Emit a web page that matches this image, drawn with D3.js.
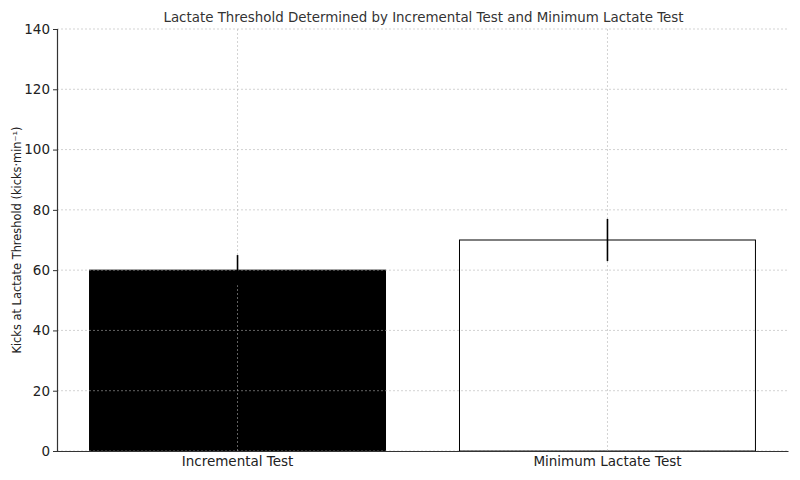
<!DOCTYPE html>
<html>
<head>
<meta charset="utf-8">
<script src="https://cdn.jsdelivr.net/npm/d3@7"></script>
<style>
  body { margin: 0; background: #fff; }
  text { font-family: "DejaVu Sans", sans-serif; }
</style>
</head>
<body>
<script>
// data
const categories = ['Incremental Test', 'Minimum Lactate Test'];
const means = [60, 70];
const errors = [5, 7];
const fills = ['#000000', '#ffffff'];
const yTicks = [0, 20, 40, 60, 80, 100, 120, 140];

const width = 800;
const height = 480;
const margin = {top: 29, right: 12, bottom: 29, left: 57};

const svg = d3.select('body')
  .append('svg')
    .attr('width', width)
    .attr('height', height);

const x = d3.scaleBand()
  .domain(categories)
  .range([margin.left, width - margin.right])
  .paddingInner(0.2)
  .paddingOuter(0.088);

const y = d3.scaleLinear()
  .domain([0, 140])
  .range([height - margin.bottom, margin.top]);

// bars
svg.selectAll('rect.bar')
  .data(categories)
  .enter().append('rect')
    .attr('class', 'bar')
    .attr('x', d => x(d))
    .attr('y', (d, i) => y(means[i]))
    .attr('width', x.bandwidth())
    .attr('height', (d, i) => y(0) - y(means[i]))
    .attr('fill', (d, i) => fills[i])
    .attr('stroke', '#000')
    .attr('stroke-width', 1);

// grid on top of the bars
const grid = svg.append('g')
  .attr('stroke', '#b0b0b0')
  .attr('stroke-opacity', 0.7)
  .attr('stroke-width', 0.8)
  .attr('stroke-dasharray', '2,2');

grid.selectAll('line.h')
  .data(yTicks)
  .enter().append('line')
    .attr('x1', margin.left)
    .attr('x2', width - margin.right)
    .attr('y1', d => y(d))
    .attr('y2', d => y(d));

grid.selectAll('line.v')
  .data(categories)
  .enter().append('line')
    .attr('x1', d => x(d) + x.bandwidth() / 2)
    .attr('x2', d => x(d) + x.bandwidth() / 2)
    .attr('y1', y(0))
    .attr('y2', y(140));

// error bars, above the grid
svg.selectAll('line.err')
  .data(categories)
  .enter().append('line')
    .attr('class', 'err')
    .attr('x1', d => x(d) + x.bandwidth() / 2)
    .attr('x2', d => x(d) + x.bandwidth() / 2)
    .attr('y1', (d, i) => y(means[i] - errors[i]))
    .attr('y2', (d, i) => y(means[i] + errors[i]))
    .attr('stroke', '#000')
    .attr('stroke-width', 1.6);

// axes
const yAxis = svg.append('g')
  .attr('transform', `translate(${margin.left},0)`)
  .call(d3.axisLeft(y).tickValues(yTicks).tickSizeOuter(0).tickSize(4).tickPadding(3));

const xAxis = svg.append('g')
  .attr('transform', `translate(0,${y(0)})`)
  .call(d3.axisBottom(x).tickSize(0).tickSizeOuter(0).tickPadding(5));

[yAxis, xAxis].forEach(g => {
  g.selectAll('path.domain').attr('stroke', '#333').attr('stroke-width', 1.2);
  g.selectAll('.tick line').attr('stroke', '#333');
  g.selectAll('.tick text')
    .attr('fill', '#222')
    .style('font-size', '13.5px')
    .style('font-family', '"DejaVu Sans", sans-serif');
});

// title
svg.append('text')
  .attr('x', (margin.left + width - margin.right) / 2 + 1)
  .attr('y', 22)
  .attr('text-anchor', 'middle')
  .attr('fill', '#333')
  .style('font-size', '13.4px')
  .text('Lactate Threshold Determined by Incremental Test and Minimum Lactate Test');

// y label
svg.append('text')
  .attr('transform', `translate(21,${(margin.top + height - margin.bottom) / 2}) rotate(-90)`)
  .attr('text-anchor', 'middle')
  .attr('fill', '#222')
  .style('font-size', '11.4px')
  .text('Kicks at Lactate Threshold (kicks·min⁻¹)');
</script>
</body>
</html>
